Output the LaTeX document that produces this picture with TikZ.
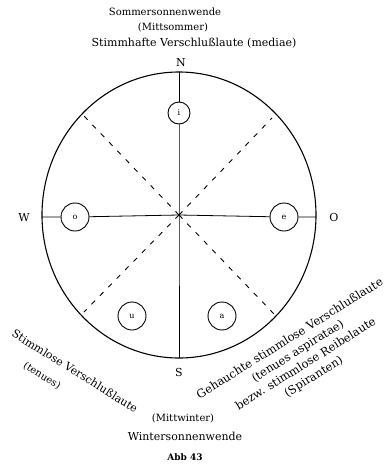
\documentclass[tikz,border=0pt]{standalone}
\usepackage{fontspec}
\setmainfont{DejaVu Serif}
\begin{document}
\begin{tikzpicture}[x=1pt,y=-1pt,
  lbl/.style={font=\fontsize{10}{12}\selectfont, inner sep=0pt},
  big/.style={font=\fontsize{11}{13}\selectfont, inner sep=0pt},
  vow/.style={circle, draw, line width=0.9pt, minimum size=28pt, inner sep=0pt, font=\fontsize{8}{9}\selectfont},
  axis/.style={line width=0.8pt},
  diag/.style={line width=0.9pt, dash pattern=on 5pt off 7pt}]
\useasboundingbox (0,0) rectangle (390,467);
\coordinate (c) at (179,215);
\draw[line width=1.1pt] (c) ellipse [x radius=137, y radius=143];
\coordinate (top) at (179,72);
\coordinate (bot) at (179,358);
\coordinate (lft) at (42,217);
\coordinate (rgt) at (316,217);
\coordinate (ul) at (84,116);
\coordinate (ur) at (272,118);
\coordinate (ll) at (84,312);
\coordinate (lr) at (274,314);
\node[vow, minimum size=22pt] (i) at (179,113) {i};
\node[vow] (o) at (75,217) {o};
\node[vow] (e) at (284,217) {e};
\node[vow] (u) at (132,316) {u};
\node[vow] (a) at (222,316) {a};
\draw[axis] (top) -- (i) -- (c) -- (bot);
\draw[axis] (lft) -- (o) -- (c) -- (e) -- (rgt);
\draw[diag] (c) -- (ul);
\draw[diag] (c) -- (ur);
\draw[diag] (c) -- (ll);
\draw[diag] (c) -- (lr);
\node[lbl] (t1) at (165,12) {Sommersonnenwende};
\node[lbl] (t2) at (173,27) {(Mittsommer)};
\node[big] (t3) at (194,43) {Stimmhafte Verschlußlaute (mediae)};
\node[big] (n) at (181,63) {N};
\node[big] (w) at (24,217) {W};
\node[big] (oo) at (334,217) {O};
\node[big] (s) at (179,372) {S};
\node[big, rotate=-32] (sl) at (75,371) {Stimmlose Verschlußlaute};
\node[lbl, rotate=-32] (st) at (42,376) {(tenues)};
\node[align=center, rotate=32, inner sep=0pt, font=\fontsize{11.5}{15}\selectfont] (gs) at (302,358) {Gehauchte stimmlose Verschlußlaute\\(tenues aspiratae)\\bezw. stimmlose Reibelaute\\(Spiranten)};
\node[lbl] (b1) at (183,418) {(Mittwinter)};
\node[big] (b2) at (185,436) {Wintersonnenwende};
\node[lbl, font=\fontsize{9}{10}\selectfont\bfseries] (b3) at (185,457) {Abb 43};
\end{tikzpicture}
\end{document}
